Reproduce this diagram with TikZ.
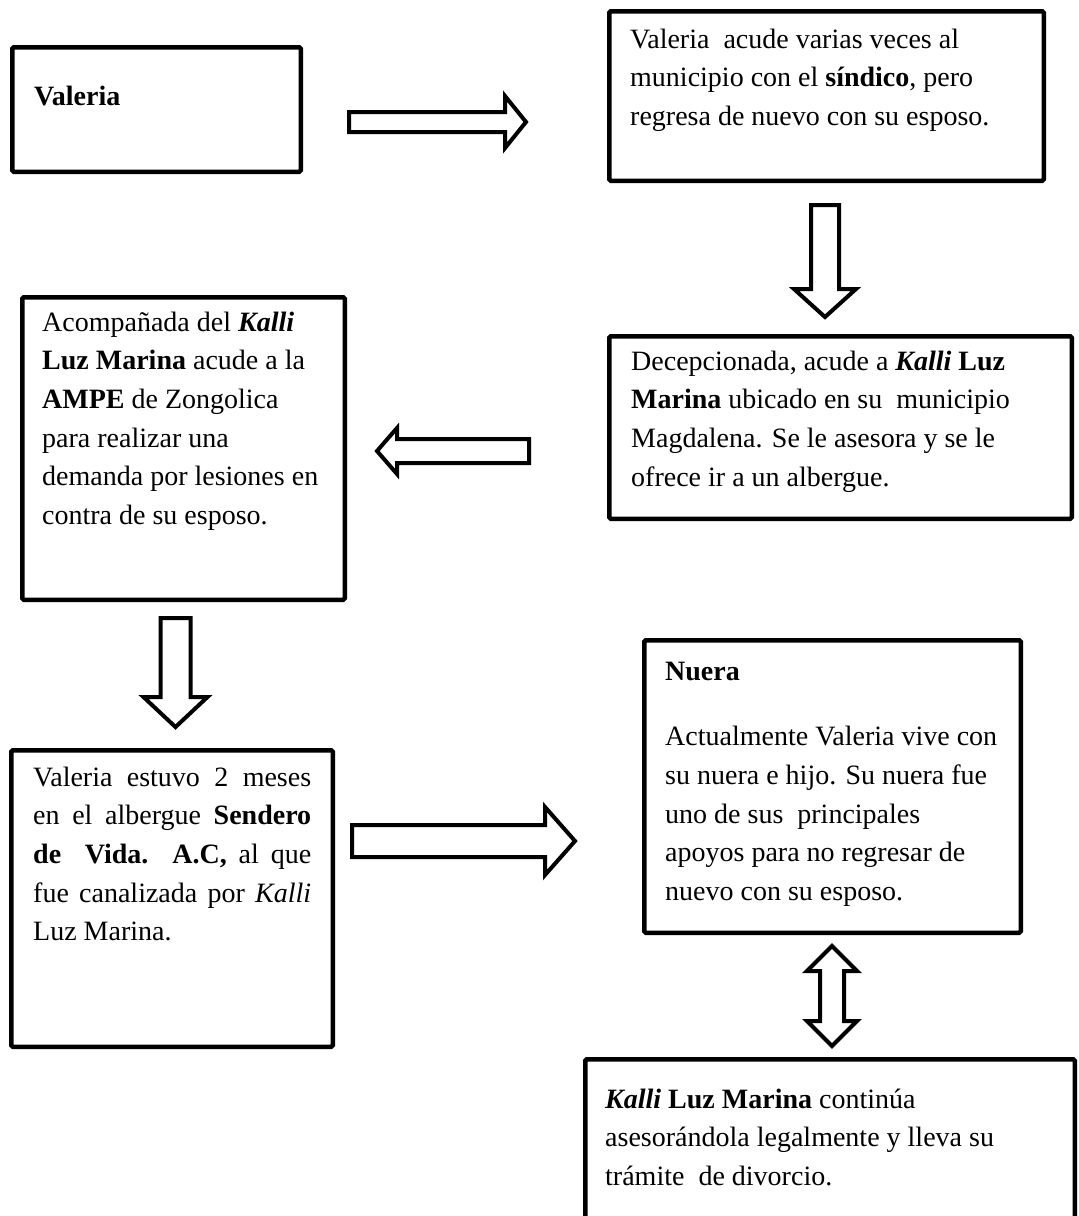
\documentclass[tikz,border=0pt]{standalone}
\usepackage{fontspec}
\setmainfont{Liberation Serif}
\tikzset{
  box/.style={draw, line width=4.5pt, rounded corners=1.5pt, anchor=north west, inner sep=0pt, outer sep=2.25pt},
  txt/.style={anchor=north west, inner sep=0pt, align=left, font=\fontsize{28}{38.6}\selectfont},
  blk/.style={draw, line width=4pt, fill=white, line join=miter},
}
\newcommand{\blkarrow}[7]{%
  \draw[blk, shift={(#1,#2)}, rotate=#3] (0,-#5) -- ({#4-#7},-#5) -- ({#4-#7},-#6) -- (#4,0) -- ({#4-#7},#6) -- ({#4-#7},#5) -- (0,#5) -- cycle;}
\newcommand{\kal}{\textbf{\textit{Kalli}}}
\newcommand{\strt}{\rule{0pt}{22pt}}
\begin{document}
\begin{tikzpicture}[x=1pt,y=-1pt]
\useasboundingbox (0,0) rectangle (1079,1216);
\clip (0,0) rectangle (1079,1216);
% boxes
\node[box, minimum width=288.5pt, minimum height=124.5pt] (b1) at (10,45) {};
\node[box, minimum width=434.5pt, minimum height=169.5pt] (b2) at (607,9) {};
\node[box, minimum width=462.5pt, minimum height=182.5pt] (b3) at (607,334) {};
\node[box, minimum width=322.5pt, minimum height=302.5pt] (b4) at (20,295) {};
\node[box, minimum width=321.5pt, minimum height=296.5pt] (b5) at (9,748) {};
\node[box, minimum width=376.5pt, minimum height=292.5pt] (b6) at (642,638) {};
\node[box, minimum width=489.5pt, minimum height=220pt] (b7) at (583,1057) {};
% texts
\node[txt] (t1) at (34,83) {\strt\textbf{Valeria}};
\node[txt] (t2) at (630,26) {\strt Valeria~ acude varias veces al\\
  municipio con el \textbf{síndico}, pero\\
  regresa de nuevo con su esposo.};
\node[txt] (t3) at (631,348) {\strt Decepcionada, acude a \kal\ \textbf{Luz}\\
  \textbf{Marina} ubicado en su~ municipio\\
  Magdalena. Se le asesora y se le\\
  ofrece ir a un albergue.};
\node[txt] (t4) at (42,309) {\strt Acompañada del \kal\\
  \textbf{Luz Marina} acude a la\\
  \textbf{AMPE} de Zongolica\\
  para realizar una\\
  demanda por lesiones en\\
  contra de su esposo.};
\node[txt] (t5) at (33,764) {\strt\makebox[278pt][s]{Valeria estuvo 2 meses}\\
  \makebox[278pt][s]{en el albergue \textbf{Sendero}}\\
  \makebox[278pt][s]{\textbf{de~ Vida. A.C,} al que}\\
  \makebox[278pt][s]{fue canalizada por \textit{Kalli}}\\
  Luz Marina.};
\node[txt] (t6) at (665,658) {\strt\textbf{Nuera}\\[27pt]
  Actualmente Valeria vive con\\
  su nuera e hijo. Su nuera fue\\
  uno de sus~ principales\\
  apoyos para no regresar de\\
  nuevo con su esposo.};
\node[txt] (t7) at (605,1086) {\strt\kal\ \textbf{Luz Marina} continúa\\
  asesorándola legalmente y lleva su\\
  trámite~ de divorcio.};
% block arrows
\blkarrow{349}{122}{0}{177}{10}{26}{21}
\blkarrow{825}{205}{-90}{112}{14}{31}{28}
\blkarrow{529}{451}{180}{152}{12}{23}{20}
\blkarrow{175.5}{618}{-90}{109}{15}{32}{30}
\blkarrow{352}{841}{0}{223}{16}{34}{30}
\draw[blk] (832,946) -- (857,971) -- (844,971) -- (844,1021) -- (857,1021) -- (832,1046)
  -- (807,1021) -- (820,1021) -- (820,971) -- (807,971) -- cycle;
\end{tikzpicture}
\end{document}
